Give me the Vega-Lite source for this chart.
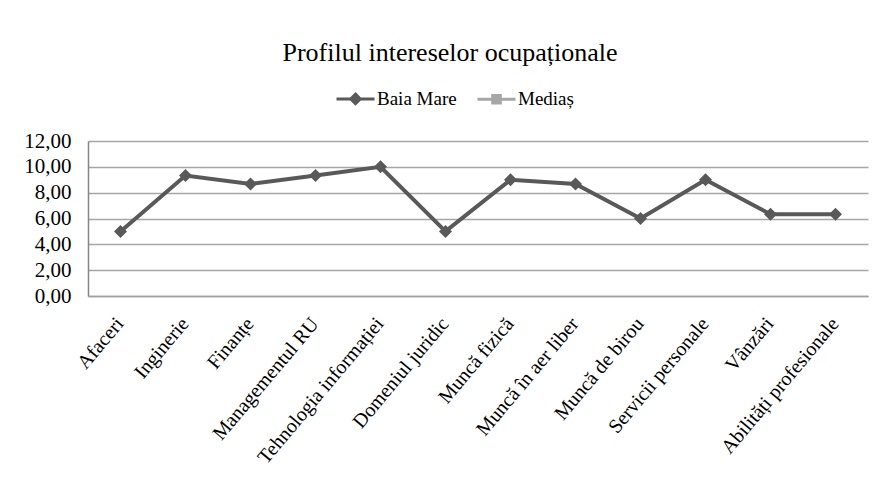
{
  "$schema": "https://vega.github.io/schema/vega-lite/v6.json",
  "width": 780,
  "height": 155,
  "autosize": {"type": "none"},
  "padding": {"left": 88, "top": 141, "right": 6, "bottom": 189},
  "background": "white",
  "config": {
    "locale": {"number": {"decimal": ",", "thousands": ".", "grouping": [3], "currency": ["", " lei"]}},
    "view": {"stroke": null},
    "font": "Liberation Serif",
    "legend": {"labelFont": "Liberation Serif"}
  },
  "title": {
    "text": "Profilul intereselor ocupaționale",
    "font": "Liberation Serif",
    "fontSize": 26,
    "fontWeight": "normal",
    "color": "#000000",
    "anchor": "middle",
    "frame": "group",
    "dx": -28,
    "offset": 12
  },
  "data": {
    "values": [
      {"series": "Baia Mare", "category": "Afaceri", "value": 5.0},
      {"series": "Baia Mare", "category": "Inginerie", "value": 9.33},
      {"series": "Baia Mare", "category": "Finanțe", "value": 8.67},
      {"series": "Baia Mare", "category": "Managementul RU", "value": 9.33},
      {"series": "Baia Mare", "category": "Tehnologia informației", "value": 10.0},
      {"series": "Baia Mare", "category": "Domeniul juridic", "value": 5.0},
      {"series": "Baia Mare", "category": "Muncă fizică", "value": 9.0},
      {"series": "Baia Mare", "category": "Muncă în aer liber", "value": 8.67},
      {"series": "Baia Mare", "category": "Muncă de birou", "value": 6.0},
      {"series": "Baia Mare", "category": "Servicii personale", "value": 9.0},
      {"series": "Baia Mare", "category": "Vânzări", "value": 6.33},
      {"series": "Baia Mare", "category": "Abilități profesionale", "value": 6.33}
    ]
  },
  "encoding": {
    "x": {
      "field": "category",
      "type": "nominal",
      "sort": null,
      "scale": {"paddingInner": 0, "paddingOuter": 0},
      "axis": {
        "title": null,
        "labelAngle": -50,
        "labelFont": "Liberation Serif",
        "labelFontSize": 20,
        "labelColor": "#000000",
        "labelPadding": 24,
        "labelOffset": -1,
        "labelLimit": 0,
        "ticks": false,
        "domainColor": "#a0a0a0",
        "domainWidth": 1.5,
        "grid": false
      }
    },
    "y": {
      "field": "value",
      "type": "quantitative",
      "scale": {"domain": [0, 12], "nice": false, "zero": true},
      "axis": {
        "title": null,
        "values": [0, 2, 4, 6, 8, 10, 12],
        "format": ".2f",
        "labelFont": "Liberation Serif",
        "labelFontSize": 21,
        "labelColor": "#000000",
        "labelPadding": 17,
        "ticks": false,
        "domainColor": "#868686",
        "domainWidth": 1.5,
        "grid": true,
        "gridColor": "#a6a6a6",
        "gridWidth": 1.5
      }
    }
  },
  "layer": [
    {
      "mark": {"type": "line", "color": "#595959", "strokeWidth": 4}
    },
    {
      "mark": {"type": "point", "shape": "diamond", "filled": true, "color": "#595959", "opacity": 1, "size": 170}
    },
    {
      "transform": [{"filter": "datum.value < 0"}],
      "mark": {"type": "point", "filled": true, "opacity": 1},
      "encoding": {
        "color": {
          "field": "series",
          "type": "nominal",
          "scale": {"domain": ["Baia Mare", "Mediaș"], "range": ["#595959", "#a6a6a6"]},
          "legend": {
            "title": null,
            "orient": "none",
            "direction": "horizontal",
            "legendX": 247,
            "legendY": -63,
            "symbolSize": 1444,
            "symbolStrokeWidth": 3,
            "labelFont": "Liberation Serif",
            "labelFontSize": 19,
            "labelColor": "#000000",
            "labelOffset": 1,
            "columnPadding": 14,
            "symbolOpacity": 1,
            "encode": {
              "symbols": {"update": {"stroke": {"scale": "color", "field": "value"}, "strokeWidth": {"value": 3}}}
            }
          }
        },
        "shape": {
          "field": "series",
          "type": "nominal",
          "scale": {
            "domain": ["Baia Mare", "Mediaș"],
            "range": [
              "M-1,0L1,0M0,-0.25L0.25,0L0,0.25L-0.25,0Z",
              "M-1,0L1,0M-0.2,-0.2L0.2,-0.2L0.2,0.2L-0.2,0.2Z"
            ]
          }
        }
      }
    }
  ]
}
